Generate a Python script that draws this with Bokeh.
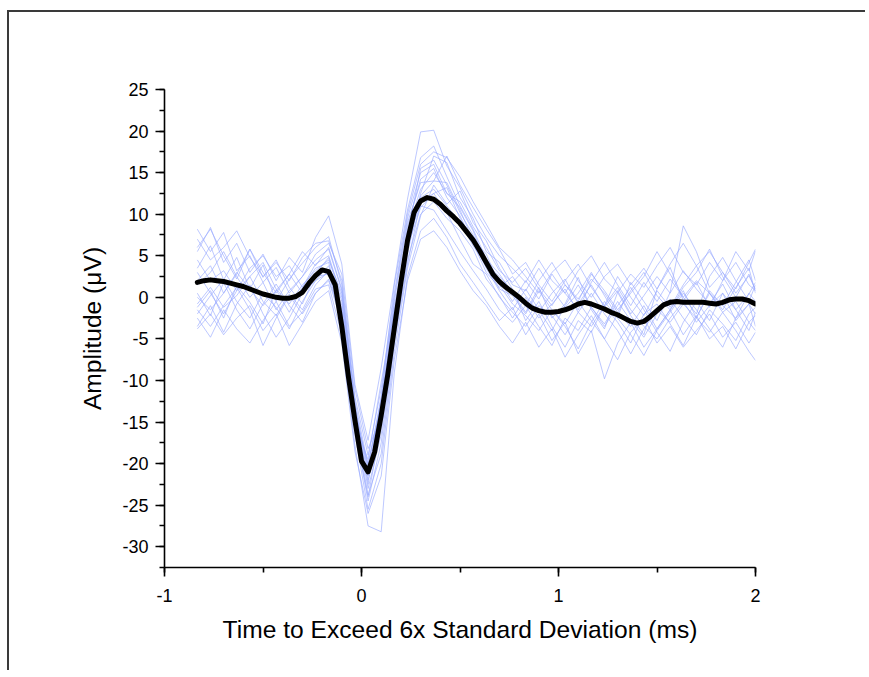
from bokeh.plotting import figure
from bokeh.models import SingleIntervalTicker, ColumnDataSource, NumeralTickFormatter
from bokeh.embed import file_html
from bokeh.resources import INLINE

# ---------------- data ----------------
# mean waveform, sampled at 30 kHz (sample index k -> k/30 ms)
mean_k = list(range(-25, 61))
mean_uv = [
    1.8, 2.0, 2.1, 2.0, 1.9, 1.7, 1.5, 1.3, 1.0, 0.7,
    0.4, 0.2, 0.0, -0.1, -0.1, 0.1, 0.6, 1.7, 2.6, 3.3,
    3.1, 1.5,
    -3.5, -9.5, -14.8, -19.7,
    -21.0, -18.6, -14.2, -9.3, -3.7, 1.8, 6.8, 10.2, 11.6, 12.0,
    11.8, 11.2, 10.4, 9.7, 8.9, 7.9, 6.9, 5.6, 4.2, 2.8,
    1.9, 1.2, 0.6, 0.0, -0.7, -1.3, -1.6, -1.8, -1.8, -1.7,
    -1.5, -1.2, -0.8, -0.6, -0.8, -1.1, -1.4, -1.8, -2.1, -2.5,
    -2.9, -3.1, -2.9, -2.3, -1.6, -0.9, -0.6, -0.5, -0.6, -0.6,
    -0.6, -0.6, -0.7, -0.8, -0.6, -0.3, -0.2, -0.2, -0.4, -0.8,
]

# individual spike traces (sample indices of the points read)
trace_k = list(range(-25, 60, 2)) + [60]
traces = [
    [3.5, 6.2, 2.1, 4.8, 1.0, 3.9, -0.5, 2.2, 4.1, 6.0,
     7.3, 1.5, -12.8, -22.5, -12.0, 1.5, 10.5, 16.8, 18.2, 14.5,
     11.0, 8.2, 4.6, 2.8, 0.5, -1.8, 1.2, -2.5, -0.8, 2.4,
     -1.5, -3.8, 0.6, -2.2, -4.5, 1.0, 3.6, -0.4, 1.8, -1.2,
     2.0, 4.2, 1.5, 0.8],
    [-1.2, 0.8, -2.5, 1.4, -0.6, -3.2, 0.9, -1.8, 1.2, 3.5,
     4.2, -1.8, -15.2, -19.5, -10.2, -1.5, 6.0, 10.8, 12.5, 13.2,
     9.5, 7.0, 5.2, 1.5, -0.8, -2.2, -4.0, -1.5, -3.2, -0.5,
     -2.8, -5.0, -2.0, -3.5, -1.0, -3.8, -1.5, 0.8, -2.5, -4.2,
     -1.8, -0.5, -3.0, -2.2],
    [8.2, 5.5, 7.8, 3.2, 5.0, 1.8, 3.6, 0.5, 2.5, 5.2,
     6.5, 2.8, -11.0, -18.2, -14.5, -3.0, 8.5, 14.2, 15.5, 12.0,
     9.8, 6.5, 3.0, 1.2, 2.5, 0.2, -1.8, 0.5, 2.2, -0.8,
     1.5, -1.2, 0.8, -2.0, 0.2, 2.5, 0.5, 3.2, 1.0, -0.8,
     1.6, -1.5, 0.4, 1.8],
    [-3.5, -1.0, -4.2, -0.8, 1.5, -2.0, -4.8, -2.5, 0.5, 2.0,
     3.0, -3.2, -16.5, -25.5, -20.0, -6.5, 3.5, 9.8, 13.5, 11.2,
     12.8, 9.0, 6.8, 3.5, 1.0, -2.8, -0.5, -3.5, -6.0, -2.8,
     -4.2, -1.0, -3.0, -5.5, -2.0, -0.8, -3.2, -5.8, -2.4, 0.5,
     -1.8, -4.0, -6.5, -7.6],
    [2.0, 3.8, 0.5, 2.8, 5.8, 2.4, 4.5, 1.2, -0.8, 2.8,
     4.8, -0.5, -14.0, -23.0, -16.5, -4.5, 5.2, 12.5, 17.0, 16.2,
     12.0, 9.5, 5.5, 4.2, 1.5, 0.8, 3.5, 1.0, -1.2, 0.5,
     3.0, 0.2, -2.4, 1.8, -0.5, -2.8, 0.6, 8.6, 5.5, 1.2,
     3.0, 0.5, 2.6, 1.0],
    [0.5, -2.2, 1.8, -1.5, -3.8, -0.8, 1.6, -1.0, -3.0, 0.5,
     2.2, -2.5, -13.5, -20.5, -12.5, -2.0, 7.2, 11.0, 10.5, 8.0,
     5.5, 3.2, 1.0, -1.5, -3.0, -1.0, -3.5, -5.8, -2.5, -4.0,
     -1.2, -3.2, -0.5, -2.8, -4.8, -2.0, -0.2, -2.5, -4.5, -1.5,
     -3.2, -5.2, -2.0, -1.2],
    [5.5, 8.4, 4.2, 6.5, 3.0, 5.2, 2.0, 4.8, 3.0, 7.2,
     9.8, 4.0, -10.5, -17.2, -8.5, 1.8, 11.8, 19.9, 20.1, 15.8,
     13.2, 10.0, 7.2, 5.0, 3.5, 1.8, 4.5, 2.0, 0.5, 3.2,
     5.0, 2.2, 0.6, 2.8, 1.2, 3.8, 6.0, 3.0, 1.5, 4.2,
     2.0, 5.5, 3.2, 5.6],
    [-2.5, -4.8, -1.5, -3.8, -5.5, -2.8, -0.5, -3.5, -1.8, 1.0,
     1.5, -4.5, -17.8, -27.5, -28.2, -9.0, 2.5, 8.0, 9.5, 7.2,
     4.0, 1.8, -0.5, -2.8, -1.2, -4.5, -2.0, -5.2, -3.0, -6.8,
     -4.0, -9.8, -5.5, -3.0, -6.0, -3.8, -1.5, -4.5, -2.2, -5.0,
     -3.5, -6.2, -3.0, -4.0],
    [1.5, 3.0, 5.5, 2.5, 0.0, 1.8, -1.5, 0.8, 2.5, 4.5,
     5.8, 0.8, -13.0, -21.0, -13.5, -0.5, 9.0, 13.8, 14.0, 17.0,
     13.5, 10.8, 8.2, 5.8, 2.8, 4.2, 1.5, -0.5, 2.0, 4.0,
     1.2, -1.0, 2.5, 0.0, -2.2, 0.8, -1.2, 1.5, 3.8, 0.5,
     -1.5, 1.2, 3.5, 0.5],
    [-0.8, 1.2, -1.2, 0.2, 2.5, -0.5, -2.2, 0.4, -1.5, 1.5,
     3.2, -1.0, -15.8, -24.5, -17.5, -5.0, 4.5, 10.0, 11.5, 9.5,
     8.0, 5.8, 2.2, 0.2, -2.5, 0.0, -2.5, -0.8, 1.0, -1.8,
     -3.5, -1.0, 1.2, -1.5, -3.5, -5.0, -2.5, -0.5, -3.0, -1.0,
     0.5, -2.8, -0.8, -2.0],
    [4.5, 2.0, 3.2, 0.8, 3.5, 5.0, 2.5, 3.8, 1.2, 4.0,
     5.0, 0.0, -14.5, -22.0, -15.0, -2.5, 7.5, 15.5, 16.5, 13.5,
     10.2, 7.5, 4.5, 2.0, -0.5, 2.0, -0.2, 2.8, 0.5, -1.5,
     1.8, 4.2, 1.5, -1.0, 1.8, -0.5, 2.2, 0.0, -2.0, 2.5,
     4.8, 2.0, -0.5, 1.5],
    [-3.8, -2.0, -4.5, -2.5, -1.0, -4.0, -2.0, -5.8, -3.2, -0.5,
     0.8, -5.5, -18.5, -26.0, -21.5, -7.5, 2.0, 7.0, 8.0, 6.0,
     3.2, 0.8, -1.0, -3.5, -5.5, -3.0, -6.0, -3.8, -7.2, -4.5,
     -2.2, -5.0, -7.5, -4.2, -2.5, -5.5, -3.5, -6.0, -4.0, -2.0,
     -4.8, -3.0, -5.5, -4.2],
    [7.0, 4.5, 6.0, 8.0, 4.8, 2.5, 4.2, 2.0, 4.8, 6.5,
     6.8, 2.0, -12.0, -19.0, -11.0, 0.5, 10.0, 16.0, 17.5, 16.8,
     14.5, 11.5, 8.8, 6.0, 4.5, 2.5, 0.5, 3.0, 4.5, 2.0,
     0.0, 2.5, 4.0, 1.5, 3.5, 1.0, 4.0, 6.5, 3.8, 5.5,
     3.0, 1.0, 4.2, 5.8],
    [0.0, -1.5, 0.5, 3.0, 1.0, -1.0, 0.8, 2.8, 0.5, 2.5,
     2.8, -2.0, -14.8, -23.8, -18.8, -5.5, 4.0, 11.5, 12.5, 10.2,
     7.0, 4.0, 2.8, 0.0, -1.8, -3.5, -1.0, -2.2, -4.5, -1.8,
     0.5, -2.0, -4.0, -6.8, -3.8, -1.5, -3.0, -0.8, -2.5, 0.8,
     -1.0, -2.5, 0.5, -0.5],
    [-2.0, 0.2, 2.2, -0.5, -2.5, 0.5, -1.2, -3.8, -0.5, 2.0,
     3.8, -1.5, -14.2, -20.0, -13.0, -1.0, 6.5, 12.0, 13.0, 11.0,
     9.0, 6.2, 3.8, 1.0, 0.2, -2.0, 0.8, -1.5, -3.5, -6.2,
     -3.0, -0.5, -2.5, -4.5, -7.0, -4.0, -1.8, 0.5, -1.5, -3.8,
     -6.0, -2.5, -0.8, -3.5],
    [3.0, 0.5, -2.0, 0.8, 2.5, 4.2, 1.0, -0.8, 1.5, 3.2,
     4.5, 0.5, -13.5, -21.5, -14.0, -2.2, 8.0, 13.0, 15.0, 12.5,
     11.5, 8.5, 6.0, 3.2, 1.8, 3.5, 1.0, -1.0, 1.5, -0.2,
     2.2, 0.5, -1.8, 0.8, 3.0, 0.2, -1.5, 1.2, 3.0, 5.8,
     2.5, 0.0, 2.8, 0.8],
    [-1.5, -3.5, -1.0, 1.2, -1.5, -5.8, -2.5, 0.2, -2.0, 0.5,
     2.0, -3.0, -16.0, -24.0, -15.5, -3.0, 6.0, 12.2, 14.0, 13.8,
     10.5, 6.8, 3.5, 0.8, -1.5, 1.0, -1.5, -4.0, -1.0, 1.5,
     -1.2, -3.5, -1.0, 1.2, -1.5, -4.2, -6.5, -3.0, -0.5, -2.8,
     0.5, -1.5, -4.0, -1.8],
    [6.0, 8.2, 5.0, 2.2, 5.8, 3.0, 0.5, 2.8, 5.5, 3.8,
     6.0, 1.0, -12.5, -20.2, -12.0, 0.0, 9.5, 15.0, 16.0, 12.5,
     10.8, 8.0, 4.0, 2.5, 0.8, -1.0, 2.0, 4.2, 1.5, -0.5,
     2.8, 0.8, -1.5, 0.5, 2.5, 5.5, 2.8, 0.0, 2.0, 0.5,
     -1.0, 1.8, 4.5, 2.0],
]

x_label = "Time to Exceed 6x Standard Deviation (ms)"
y_label = "Amplitude (\u03bcV)"

# ---------------- figure ----------------
mean_t = [k / 30 for k in mean_k]
trace_t = [k / 30 for k in trace_k]

p = figure(width=858, height=660, x_range=(-1, 2), y_range=(-32.5, 25),
           output_backend="svg", toolbar_location=None,
           min_border_left=155, min_border_top=77, min_border_right=112,
           min_border_bottom=105)
p.styles = {"border-left": "2px solid #3a3a3a", "border-top": "2px solid #3a3a3a",
            "margin-left": "7px", "margin-top": "10px"}
p.outline_line_color = None
p.xgrid.visible = False
p.ygrid.visible = False
p.background_fill_color = "white"
p.border_fill_color = "white"

src = ColumnDataSource(dict(xs=[trace_t[:len(tr)] for tr in traces], ys=traces))
p.multi_line("xs", "ys", source=src, line_color="#9aabff", line_alpha=0.65, line_width=1)
p.line(mean_t, mean_uv, line_color="black", line_width=5, line_join="round", line_cap="round")

p.xaxis.ticker = SingleIntervalTicker(interval=1, num_minor_ticks=2)
p.yaxis.ticker = SingleIntervalTicker(interval=5, num_minor_ticks=2)
p.xaxis.formatter = NumeralTickFormatter(format="0")
p.yaxis.formatter = NumeralTickFormatter(format="0")

for ax in (p.xaxis[0], p.yaxis[0]):
    ax.axis_line_color = "black"
    ax.axis_line_width = 1.6
    ax.major_tick_line_color = "black"
    ax.major_tick_line_width = 1.6
    ax.minor_tick_line_color = "black"
    ax.minor_tick_line_width = 1.6
    ax.major_tick_in = 0
    ax.major_tick_out = 9
    ax.minor_tick_in = 0
    ax.minor_tick_out = 5
    ax.major_label_text_font = "Liberation Sans"
    ax.major_label_text_font_size = "18px"
    ax.major_label_text_color = "black"
    ax.axis_label_text_font = "Liberation Sans"
    ax.axis_label_text_font_size = "24.6px"
    ax.axis_label_text_font_style = "normal"
    ax.axis_label_text_color = "black"

p.xaxis.axis_label = x_label
p.yaxis.axis_label = y_label
p.xaxis.major_label_standoff = 12
p.yaxis.major_label_standoff = 7
p.xaxis.axis_label_standoff = 11
p.yaxis.axis_label_standoff = 13

open("out.html", "w").write(file_html(p, INLINE))
